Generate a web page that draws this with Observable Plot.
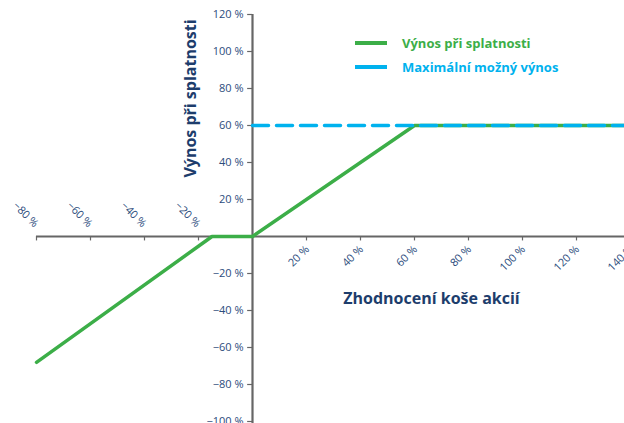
<!DOCTYPE html>
<html><head><meta charset="utf-8">
<script src="https://cdn.jsdelivr.net/npm/d3@7"></script>
<script src="https://cdn.jsdelivr.net/npm/@observablehq/plot@0.6"></script>
<style>
body{margin:0;overflow:hidden;background:#fff;font-family:"Open Sans",sans-serif;}
#wrap{position:relative;width:624px;height:423px;overflow:hidden;}
.leg{position:absolute;left:355px;font-weight:bold;font-size:13px;display:flex;align-items:center;}
.leg span.sw{display:inline-block;width:32px;height:4px;margin-right:15px;}
</style></head>
<body><div id="wrap"></div>
<script>
// data
const payoffX = [-80, -15, 0, 60, 140];
const payoffY = [-68, 0, 0, 60, 60];
const capX = [0, 140];
const capY = [60, 60];
const xTicksNeg = [-80, -60, -40, -20];
const xTicksPos = [20, 40, 60, 80, 100, 120, 140];
const yTicks = [120, 100, 80, 60, 40, 20, -20, -40, -60, -80, -100];
const seriesNames = ["Výnos při splatnosti", "Maximální možný výnos"];
const xTitle = "Zhodnocení koše akcií";
const yTitle = "Výnos při splatnosti";

const green = "#3cae48", blue = "#00b2ee", tickCol = "#2c4c7c", titleCol = "#1d3d6c", axisCol = "#666";
const fmt = d => (d < 0 ? "\u2212" : "") + Math.abs(d) + " %";
const payoff = payoffX.map((x, i) => ({x, y: payoffY[i]}));
const cap = capX.map((x, i) => ({x, y: capY[i]}));

const chart = Plot.plot({
  width: 624, height: 423,
  marginLeft: 36, marginRight: -6, marginTop: 14, marginBottom: 2,
  x: {domain: [-80, 140], axis: null},
  y: {domain: [-100, 120], axis: null},
  style: {fontFamily: "Open Sans, sans-serif", background: "white"},
  marks: [
    Plot.ruleY([0], {x1: -80, x2: 150, stroke: axisCol, strokeWidth: 2.2}),
    Plot.ruleX([0], {y1: -105, y2: 120, stroke: axisCol, strokeWidth: 2.2}),
    Plot.ruleX(xTicksNeg.concat(xTicksPos), {y1: 0, y2: -2.4, stroke: axisCol, strokeWidth: 1.2}),
    Plot.ruleY(yTicks, {x1: -1.8, x2: 0, stroke: axisCol, strokeWidth: 1.2}),
    Plot.text(yTicks, {x: 0, y: d => d, text: fmt, dx: -9, textAnchor: "end", fill: tickCol, fontSize: 11}),
    Plot.text(xTicksNeg, {x: d => d, y: 0, text: fmt, dy: -11, rotate: 45, textAnchor: "end", fill: tickCol, fontSize: 11}),
    Plot.text(xTicksPos, {x: d => d, y: 0, text: fmt, dx: 1, dy: 11, rotate: -45, textAnchor: "end", fill: tickCol, fontSize: 11}),
    Plot.line(payoff, {x: "x", y: "y", stroke: green, strokeWidth: 3.5}),
    Plot.line(cap, {x: "x", y: "y", stroke: blue, strokeWidth: 3.5, strokeDasharray: "16,8"}),
    Plot.text([xTitle], {frameAnchor: "top-left", dx: 395, dy: 278, textAnchor: "middle", fill: titleCol, fontSize: 16, fontWeight: "bold"}),
    Plot.text([yTitle], {frameAnchor: "top-left", dx: 148, dy: 84, rotate: -90, textAnchor: "middle", fill: titleCol, fontSize: 16, fontWeight: "bold"})
  ]
});
const wrap = document.getElementById("wrap");
wrap.appendChild(chart);
const cols = [green, blue];
seriesNames.forEach((n, i) => {
  const d = document.createElement("div");
  d.className = "leg";
  d.style.top = (34 + i * 24) + "px";
  d.style.color = cols[i];
  d.innerHTML = `<span class="sw" style="background:${cols[i]}"></span>${n}`;
  wrap.appendChild(d);
});
</script></body></html>
